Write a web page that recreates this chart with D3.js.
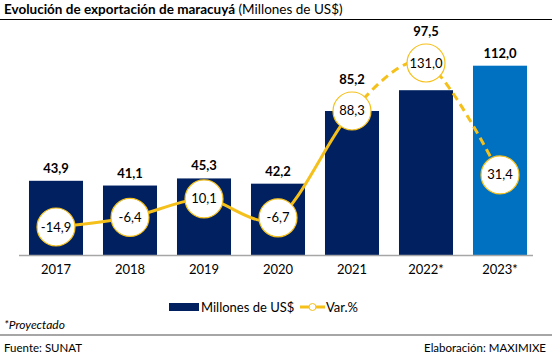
<!DOCTYPE html>
<html><head><meta charset="utf-8">
<script src="https://cdn.jsdelivr.net/npm/d3@7/dist/d3.min.js"></script>
<style>
body{margin:0;background:#fff;}
svg{display:block;font-family:Lato,"Liberation Sans",sans-serif;}
</style></head>
<body><svg id="c" width="552" height="356"></svg>
<script>
const categories = ["2017","2018","2019","2020","2021","2022*","2023*"];
const values = [43.9, 41.1, 45.3, 42.2, 85.2, 97.5, 112.0];
const variation = [-14.9, -6.4, 10.1, -6.7, 88.3, 131.0, 31.4];

const svg = d3.select("#c");
const fmt = v => v.toFixed(1).replace(".", ",");

const x = d3.scaleBand().domain(categories).range([19, 537]).paddingInner(0.27).paddingOuter(0.135);
const y = d3.scaleLinear().domain([0, 112]).range([255, 65.7]);
const y2 = d3.scaleLinear().domain([-14.9, 131]).range([227, 63]);
const R = 19;

// title
const t = svg.append("text").attr("x", 4).attr("y", 14).attr("font-size", 13.5).attr("fill", "#000");
t.append("tspan").attr("font-weight", "bold").text("Evolución de exportación de maracuyá");
t.append("tspan").text(" (Millones de US$)");
svg.append("line").attr("x1", 0).attr("x2", 552).attr("y1", 19.5).attr("y2", 19.5).attr("stroke", "#000").attr("stroke-width", 1);

// bars
svg.selectAll("rect.bar").data(categories).join("rect").attr("class", "bar")
  .attr("x", d => x(d)).attr("width", x.bandwidth())
  .attr("y", (d, i) => y(values[i])).attr("height", (d, i) => y(0) - y(values[i]))
  .attr("fill", (d, i) => i === 6 ? "#0070C0" : "#002060");

// axis
const ax = svg.append("g").attr("transform", "translate(0,255)")
  .call(d3.axisBottom(x).tickSize(0).tickPadding(10));
ax.select(".domain").attr("stroke", "#A6A6A6").attr("stroke-width", 1.5).attr("d", "M19,0.5H533");
ax.selectAll("text").attr("font-size", 13).attr("fill", "#000").attr("font-family", "Lato,'Liberation Sans',sans-serif");

// line
const cx = d => x(d) + x.bandwidth() / 2;
const pts = categories.map((d, i) => [cx(d), y2(variation[i])]);
const lineGen = d3.line().curve(d3.curveCardinal.tension(0.1));
const splitX = cx(categories[4]);
const defs = svg.append("defs");
defs.append("clipPath").attr("id", "solidClip").append("rect").attr("x", 0).attr("y", 0).attr("width", splitX).attr("height", 356);
defs.append("clipPath").attr("id", "dashClip").append("rect").attr("x", splitX).attr("y", 0).attr("width", 552 - splitX).attr("height", 356);
svg.append("path").attr("d", lineGen(pts)).attr("fill", "none").attr("stroke", "#F5C01A").attr("stroke-width", 3).attr("clip-path", "url(#solidClip)");
svg.append("path").attr("d", lineGen(pts)).attr("fill", "none").attr("stroke", "#F5C01A").attr("stroke-width", 3).attr("stroke-dasharray", "8,5").attr("clip-path", "url(#dashClip)");

svg.selectAll("circle.pt").data(pts).join("circle").attr("class", "pt")
  .attr("cx", d => d[0]).attr("cy", d => d[1]).attr("r", R)
  .attr("fill", "#fff").attr("stroke", "#F5C01A").attr("stroke-width", 1.2);
svg.selectAll("text.var").data(pts).join("text").attr("class", "var")
  .attr("x", d => d[0]).attr("y", d => d[1] + 4.5).attr("text-anchor", "middle")
  .attr("font-size", 13).attr("fill", "#000").text((d, i) => fmt(variation[i]));

// value labels (placed above the marker when the marker would cover them)
svg.selectAll("text.val").data(categories).join("text").attr("class", "val")
  .attr("x", d => cx(d))
  .attr("y", (d, i) => {
    const top = y(values[i]);
    const ctop = pts[i][1] - R;
    return (ctop < top + 4) ? Math.min(top, ctop) - 8 : top - 8;
  })
  .attr("text-anchor", "middle").attr("font-weight", "bold").attr("font-size", 13).attr("fill", "#000")
  .text((d, i) => fmt(values[i]));

// legend
svg.append("rect").attr("x", 169).attr("y", 303).attr("width", 30).attr("height", 8).attr("fill", "#002060");
svg.append("text").attr("x", 201).attr("y", 311.5).attr("font-size", 13).attr("fill", "#000").text("Millones de US$");
svg.append("line").attr("x1", 300).attr("x2", 325).attr("y1", 307).attr("y2", 307).attr("stroke", "#F5C01A").attr("stroke-width", 3);
svg.append("circle").attr("cx", 312.5).attr("cy", 307).attr("r", 3.5).attr("fill", "#fff").attr("stroke", "#F5C01A").attr("stroke-width", 1);
svg.append("text").attr("x", 326).attr("y", 311.5).attr("font-size", 13).attr("fill", "#000").text("Var.%");

// footer
svg.append("text").attr("x", 4).attr("y", 329).attr("font-size", 12).attr("font-style", "italic").attr("fill", "#000").text("*Proyectado");
svg.append("line").attr("x1", 0).attr("x2", 552).attr("y1", 335).attr("y2", 335).attr("stroke", "#A6A6A6").attr("stroke-width", 2);
svg.append("text").attr("x", 4).attr("y", 352).attr("font-size", 11.5).attr("fill", "#000").text("Fuente: SUNAT");
svg.append("text").attr("x", 546).attr("y", 352).attr("text-anchor", "end").attr("font-size", 11.5).attr("fill", "#000").text("Elaboración: MAXIMIXE");
</script></body></html>
